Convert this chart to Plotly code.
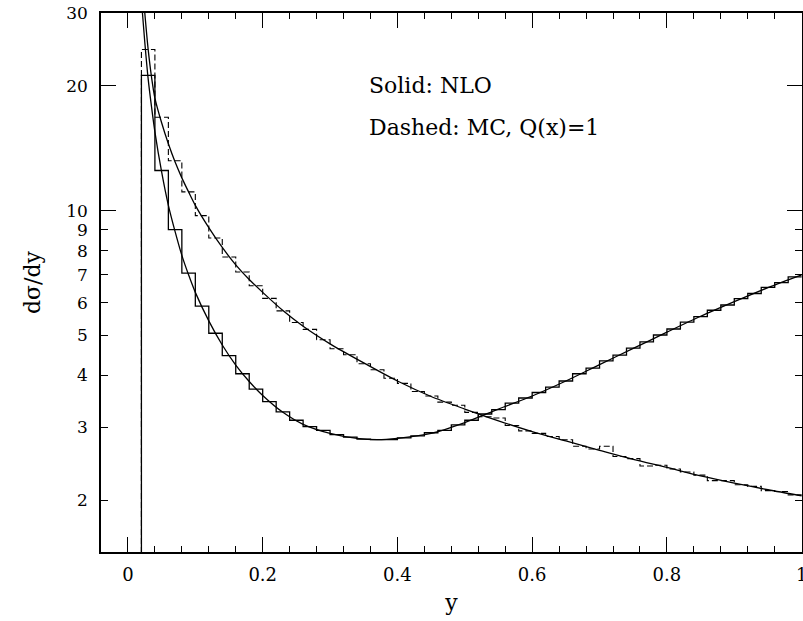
import numpy as np
import plotly.graph_objects as go

# histogram bins: width 0.02 from 0.02 to 1.00
bin_edges = np.round(np.arange(0.02, 1.0001, 0.02), 2)

# solid histogram (NLO)
hist_solid = [21.2, 12.5, 9.0, 7.07, 5.88, 5.06, 4.47, 4.04, 3.71, 3.46,
              3.27, 3.12, 3.01, 2.95, 2.88, 2.84, 2.81, 2.80, 2.80, 2.83,
              2.86, 2.91, 2.95, 3.04, 3.12, 3.23, 3.31, 3.43, 3.53, 3.64,
              3.75, 3.88, 4.04, 4.17, 4.34, 4.48, 4.66, 4.82, 5.01, 5.18,
              5.38, 5.55, 5.75, 5.92, 6.13, 6.31, 6.53, 6.70, 6.92]

# dashed histogram (MC, Q(x)=1)
hist_dashed = [24.5, 16.8, 13.2, 11.1, 9.73, 8.59, 7.73, 7.11, 6.59, 6.14,
               5.73, 5.37, 5.17, 4.88, 4.64, 4.49, 4.27, 4.13, 3.94, 3.83,
               3.66, 3.57, 3.45, 3.39, 3.26, 3.18, 3.16, 3.03, 2.94, 2.90,
               2.85, 2.80, 2.70, 2.66, 2.70, 2.55, 2.52, 2.42, 2.43, 2.38,
               2.34, 2.30, 2.23, 2.23, 2.18, 2.16, 2.11, 2.10, 2.06]

# smooth NLO curves
curve_b_x = [0.0215, 0.025, 0.03, 0.035, 0.04, 0.05, 0.06, 0.07, 0.08, 0.09,
             0.10, 0.12, 0.14, 0.16, 0.18, 0.20, 0.23, 0.26, 0.30, 0.34,
             0.37, 0.40, 0.45, 0.50, 0.55, 0.60, 0.65, 0.70, 0.75, 0.80,
             0.85, 0.90, 0.95, 1.00]
curve_b_y = [30.0, 25.5, 20.8, 17.8, 15.5, 12.4, 10.3, 8.9, 7.8, 7.0,
             6.35, 5.42, 4.74, 4.24, 3.87, 3.58, 3.26, 3.05, 2.90, 2.82,
             2.80, 2.82, 2.90, 3.08, 3.32, 3.57, 3.88, 4.25, 4.65, 5.09,
             5.56, 6.03, 6.52, 7.00]

curve_a_x = [0.025, 0.03, 0.035, 0.04, 0.05, 0.06, 0.07, 0.08, 0.09, 0.10,
             0.12, 0.14, 0.16, 0.18, 0.20, 0.23, 0.26, 0.30, 0.35, 0.40,
             0.45, 0.50, 0.55, 0.60, 0.65, 0.70, 0.75, 0.80, 0.85, 0.90,
             0.95, 1.00]
curve_a_y = [30.0, 24.5, 21.0, 18.7, 16.3, 14.5, 13.1, 12.0, 11.1, 10.3,
             9.1, 8.15, 7.4, 6.82, 6.35, 5.74, 5.26, 4.77, 4.29, 3.88,
             3.56, 3.32, 3.11, 2.93, 2.78, 2.64, 2.51, 2.40, 2.29, 2.20,
             2.12, 2.05]

x_tickvals = [0, 0.2, 0.4, 0.6, 0.8, 1]
x_ticktext = ["0", "0.2", "0.4", "0.6", "0.8", "1"]
y_tickvals = [2, 3, 4, 5, 6, 7, 8, 9, 10, 20, 30]
y_ticktext = ["2", "3", "4", "5", "6", "7", "8", "9", "10", "20", "30"]
y_long_ticks = [10, 20]

FONT = "DejaVu Serif"
floor = 1.0  # below the visible range, histogram starts from the bottom


def step_xy(values):
    xs = [bin_edges[0]] + list(bin_edges)
    ys = [floor] + list(values) + [values[-1]]
    return xs, ys


fig = go.Figure()

xs, ys = step_xy(hist_solid)
fig.add_trace(go.Scatter(x=xs, y=ys, mode="lines", line_shape="hv",
                         line=dict(color="black", width=1.3)))
xs, ys = step_xy(hist_dashed)
fig.add_trace(go.Scatter(x=xs, y=ys, mode="lines", line_shape="hv",
                         line=dict(color="black", width=1.1, dash="6px,3px")))

fig.add_trace(go.Scatter(x=curve_b_x, y=curve_b_y, mode="lines", yaxis="y2",
                         line=dict(color="black", width=1.3, shape="spline", smoothing=0.8)))
fig.add_trace(go.Scatter(x=curve_a_x, y=curve_a_y, mode="lines", yaxis="y2",
                         line=dict(color="black", width=1.3, shape="spline", smoothing=0.8)))

fig.add_annotation(x=0.355, y=np.log10(20), xref="x", yref="y", text="Solid: NLO",
                   showarrow=False, xanchor="left", yanchor="middle",
                   font=dict(family=FONT, size=22, color="black"))
fig.add_annotation(x=0.355, y=np.log10(15.85), xref="x", yref="y", text="Dashed: MC, Q(x)=1",
                   showarrow=False, xanchor="left", yanchor="middle",
                   font=dict(family=FONT, size=22, color="black"))

yrange = [np.log10(1.5), np.log10(30)]
axis_common = dict(showline=True, linecolor="black", linewidth=1.5, mirror="ticks",
                   ticks="inside", tickcolor="black", tickwidth=1.2,
                   showgrid=False, zeroline=False, automargin=False)

fig.update_layout(
    width=803, height=621,
    margin=dict(l=101, r=1, t=13, b=69),
    plot_bgcolor="white", paper_bgcolor="white",
    showlegend=False,
    xaxis=dict(range=[-0.04, 1.0005], tickmode="array", tickvals=x_tickvals, ticktext=x_ticktext,
               ticklen=15, ticklabelstandoff=6, ticklabeloverflow="allow",
               minor=dict(tick0=0, dtick=0.04, ticklen=6, ticks="inside", tickcolor="black", tickwidth=1),
               tickfont=dict(family=FONT, size=18, color="black"),
               title=dict(text="y", font=dict(family=FONT, size=22, color="black"), standoff=10),
               **axis_common),
    yaxis=dict(type="log", range=yrange, tickmode="array", tickvals=y_tickvals, ticktext=y_ticktext,
               ticklen=7, ticklabelstandoff=8, ticklabeloverflow="allow",
               tickfont=dict(family=FONT, size=17, color="black"),
               title=dict(text="dσ/dy", font=dict(family=FONT, size=22, color="black"), standoff=20),
               **axis_common),
    yaxis2=dict(type="log", range=yrange, overlaying="y", side="left", anchor="x",
                tickmode="array", tickvals=y_long_ticks, ticklen=15, showticklabels=False,
                **axis_common),
)

# page has a default 8px body margin; drop it so the figure sits at the window origin
fig.write_html("out.html", config={"displayModeBar": False},
               post_script="document.body.style.margin='0';document.body.style.overflow='hidden';")
